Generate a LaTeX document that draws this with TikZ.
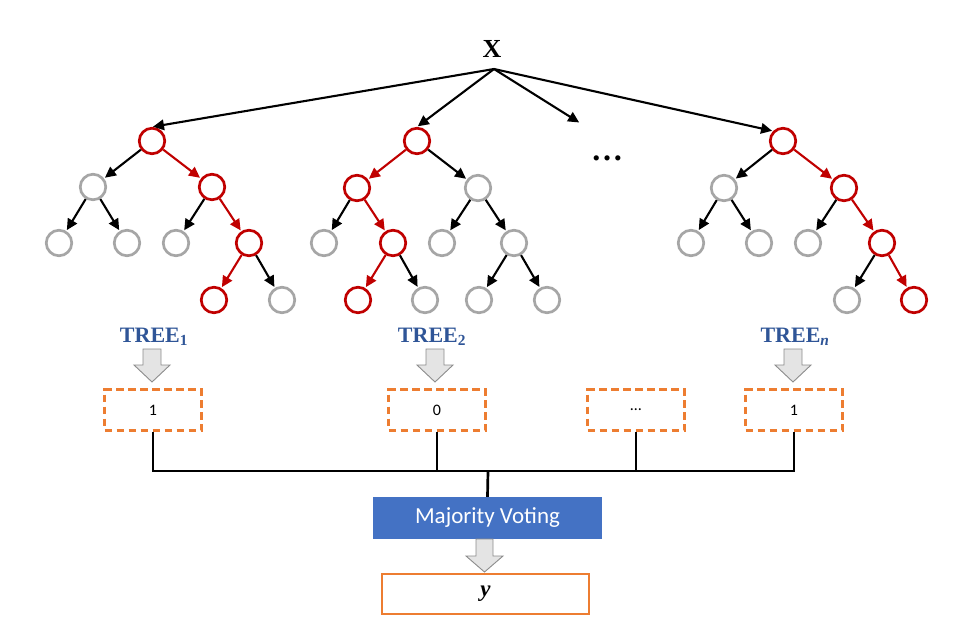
\documentclass[tikz,border=0pt]{standalone}
\usepackage{fontspec}
\setmainfont{Liberation Serif}
\newfontfamily\calibri{Carlito}
\usetikzlibrary{arrows.meta}

\definecolor{treered}{HTML}{C00000}
\definecolor{treegray}{HTML}{A6A6A6}
\definecolor{voteorange}{HTML}{ED7D31}
\definecolor{voteblue}{HTML}{4472C4}
\definecolor{labelblue}{HTML}{2F5597}
\definecolor{arrowfill}{HTML}{E4E4E4}
\definecolor{arrowline}{HTML}{8C8C8C}

\begin{document}
\begin{tikzpicture}[x=1pt, y=-1pt,
    gnode/.style={circle, draw=treegray, line width=2.7pt, minimum size=25.5pt, inner sep=0pt},
    rnode/.style={gnode, draw=treered},
    blackedge/.style={black, line width=2.1pt, -{Triangle[length=11pt,width=10.5pt]}, shorten >=1pt},
    rededge/.style={blackedge, treered},
    treelabel/.style={text=labelblue, font=\fontsize{22}{24}\selectfont\bfseries},
    blockarrow/.style={fill=arrowfill, draw=arrowline, line width=0.9pt, line join=miter},
    votebox/.style={draw=voteorange, line width=2.4pt, dash pattern=on 7.5pt off 4.5pt,
        minimum width=97pt, minimum height=41pt, font=\calibri\fontsize{16}{18}\selectfont},
    bus/.style={black, line width=2.7pt}]

    % Fix the size of the picture
    \useasboundingbox (0,0) rectangle (972,627);

    % Input on top
    \node[font=\fontsize{26}{28}\selectfont\bfseries] (X) at (492,49) {X};
    \coordinate (xs) at (494,69);
    \node[font=\fontsize{32}{34}\selectfont\bfseries] (dots) at (607,158) {…};
    \coordinate (dotsend) at (580,123);

    % Nodes of the three trees (name/x/y/style)
    \foreach \n/\x/\y/\s in {
        a0/152/141/rnode, a1/93/187/gnode, a2/212/187/rnode,
        a3/59/243/gnode, a4/127/243/gnode, a5/176/243/gnode, a6/249/243/rnode,
        a7/214/300/rnode, a8/282/300/gnode,
        b0/417/141/rnode, b1/357/188/rnode, b2/478/188/gnode,
        b3/324/243/gnode, b4/393/243/rnode, b5/442/243/gnode, b6/514/243/gnode,
        b7/358/300/rnode, b8/425/300/gnode, b9/479/300/gnode, b10/547/300/gnode,
        c0/783/141/rnode, c1/724/188/gnode, c2/844/188/rnode,
        c3/691/243/gnode, c4/759/243/gnode, c5/808/243/gnode, c6/882/243/rnode,
        c7/847/300/gnode, c8/914/300/rnode} {
        \node[\s] (\n) at (\x,\y) {};
    }

    % Edges of the trees, red along the decision path
    \foreach \p/\c/\s in {
        a0/a1/blackedge, a0/a2/rededge, a1/a3/blackedge, a1/a4/blackedge,
        a2/a5/blackedge, a2/a6/rededge, a6/a7/rededge, a6/a8/blackedge,
        b0/b1/rededge, b0/b2/blackedge, b1/b3/blackedge, b1/b4/rededge,
        b4/b7/rededge, b4/b8/blackedge, b2/b5/blackedge, b2/b6/blackedge,
        b6/b9/blackedge, b6/b10/blackedge,
        c0/c1/blackedge, c0/c2/rededge, c1/c3/blackedge, c1/c4/blackedge,
        c2/c5/blackedge, c2/c6/rededge, c6/c7/blackedge, c6/c8/rededge} {
        \draw[\s] (\p) -- (\c);
    }

    % Arrows from X to every tree
    \draw[blackedge] (xs) -- (a0.north);
    \draw[blackedge] (xs) -- (b0.north);
    \draw[blackedge] (xs) -- (dotsend);
    \draw[blackedge] (xs) -- (c0.north west);

    % Tree names
    \node[treelabel] (t1) at (154,337) {TREE\textsubscript{1}};
    \node[treelabel] (t2) at (432,337) {TREE\textsubscript{2}};
    \node[treelabel] (tn) at (795,337) {TREE\textsubscript{\textit{n}}};

    % Block arrows below the names
    \foreach \x in {152,435,793} {
        \draw[blockarrow] (\x-9,349) -- (\x+9,349) -- (\x+9,365) -- (\x+18,365)
            -- (\x,382) -- (\x-18,365) -- (\x-9,365) -- cycle;
    }

    % Votes of the trees
    \foreach \n/\x/\t in {v1/153/1, v2/437/0, v3/636/…, vn/794/1} {
        \node[votebox] (\n) at (\x,410) {\t};
    }

    % Lines joining the votes
    \coordinate (join) at (488,471);
    \draw[bus] (v1.south) -- (v1.south |- join) -- (vn.south |- join) -- (vn.south);
    \draw[bus] (v2.south) -- (v2.south |- join);
    \draw[bus] (v3.south) -- (v3.south |- join);

    % Majority voting and result
    \node[fill=voteblue, minimum width=229pt, minimum height=42pt, text=white,
        font=\calibri\fontsize{23}{25}\selectfont] (mv) at (487.5,518) {Majority Voting};
    \draw[bus] (join) -- (mv.north);
    \draw[blockarrow] (476,539) -- (493,539) -- (493,556) -- (503,556)
        -- (484.5,572) -- (466,556) -- (476,556) -- cycle;
    \node[draw=voteorange, line width=2.8pt, minimum width=207pt, minimum height=40pt,
        font=\fontsize{23}{25}\selectfont] (y) at (485.5,594) {\textbf{\textit{y}}};

\end{tikzpicture}
\end{document}
